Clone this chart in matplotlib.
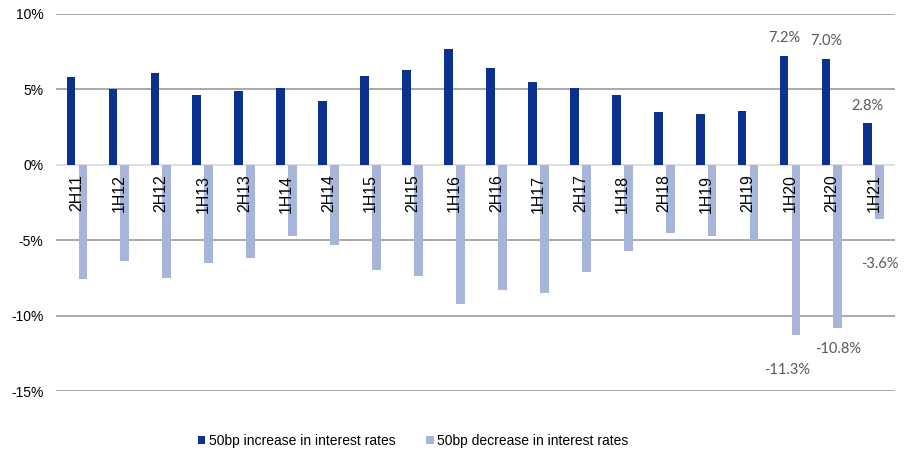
import numpy as np
import matplotlib.pyplot as plt

periods = ["2H11", "1H12", "2H12", "1H13", "2H13", "1H14", "2H14", "1H15", "2H15", "1H16",
           "2H16", "1H17", "2H17", "1H18", "2H18", "1H19", "2H19", "1H20", "2H20", "1H21"]
rate_up = [5.8, 5.0, 6.1, 4.6, 4.9, 5.1, 4.2, 5.9, 6.3, 7.7,
           6.4, 5.5, 5.1, 4.6, 3.5, 3.4, 3.6, 7.2, 7.0, 2.8]
rate_down = [-7.6, -6.4, -7.5, -6.5, -6.2, -4.7, -5.3, -7.0, -7.4, -9.2,
             -8.3, -8.5, -7.1, -5.7, -4.5, -4.7, -5.0, -11.3, -10.8, -3.6]

# only the latest three periods carry value labels
up_label_offsets = {17: (0, 13), 18: (0, 13), 19: (0, 12)}
down_label_offsets = {17: (-6, -25), 18: (0, -15), 19: (0, -32)}

dark_blue = "#0B308E"
light_blue = "#A7B5DB"

plt.rcParams["font.family"] = ["Liberation Sans", "DejaVu Sans"]

fig = plt.figure(figsize=(9.14, 4.57), dpi=100)
ax = fig.add_axes([0.0613, 0.1444, 0.9177, 0.825])

x = np.arange(len(periods))
w = 0.21
off = 0.142
ax.bar(x - off, rate_up, width=w, color=dark_blue, label="50bp increase in interest rates", zorder=3)
ax.bar(x + off, rate_down, width=w, color=light_blue, label="50bp decrease in interest rates", zorder=3)

ax.set_xlim(-0.5, len(periods) - 0.5)
ax.set_ylim(-15, 10)
ax.set_yticks([-15, -10, -5, 0, 5, 10])
ax.set_yticklabels([f"{v}%" for v in [-15, -10, -5, 0, 5, 10]], fontsize=10)
ax.tick_params(axis="y", length=0, pad=9)
ax.set_xticks([])

# horizontal gridlines; the zero line doubles as the category axis
for v in [-15, -10, -5, 5, 10]:
    ax.axhline(v, color="#A3A3A3", lw=1.3, zorder=1)
ax.axhline(0, color="#D9D9D9", lw=1.2, zorder=2)

for s in ax.spines.values():
    s.set_visible(False)

# period names hang below the zero line, on top of the bars
for i, name in enumerate(periods):
    ax.annotate(name, (x[i], 0), xytext=(0, -7), textcoords="offset points",
                rotation=90, ha="center", va="top", fontsize=11.4, zorder=5)

label_style = dict(fontsize=10.5, color="#595959", ha="center", va="center",
                   family=["Lato", "DejaVu Sans"], textcoords="offset points")
for i, (dx, dy) in up_label_offsets.items():
    ax.annotate(f"{rate_up[i]:.1f}%", (x[i] - off, rate_up[i]), xytext=(dx, dy), **label_style)
for i, (dx, dy) in down_label_offsets.items():
    ax.annotate(f"{rate_down[i]:.1f}%", (x[i] + off, rate_down[i]), xytext=(dx, dy), **label_style)

fig.legend(loc="center", bbox_to_anchor=(0.452, 0.035), ncol=2, frameon=False,
           fontsize=10, handlelength=0.55, handleheight=0.55, handletextpad=0.25,
           columnspacing=2.2)

fig.savefig("out.png", dpi=100)
